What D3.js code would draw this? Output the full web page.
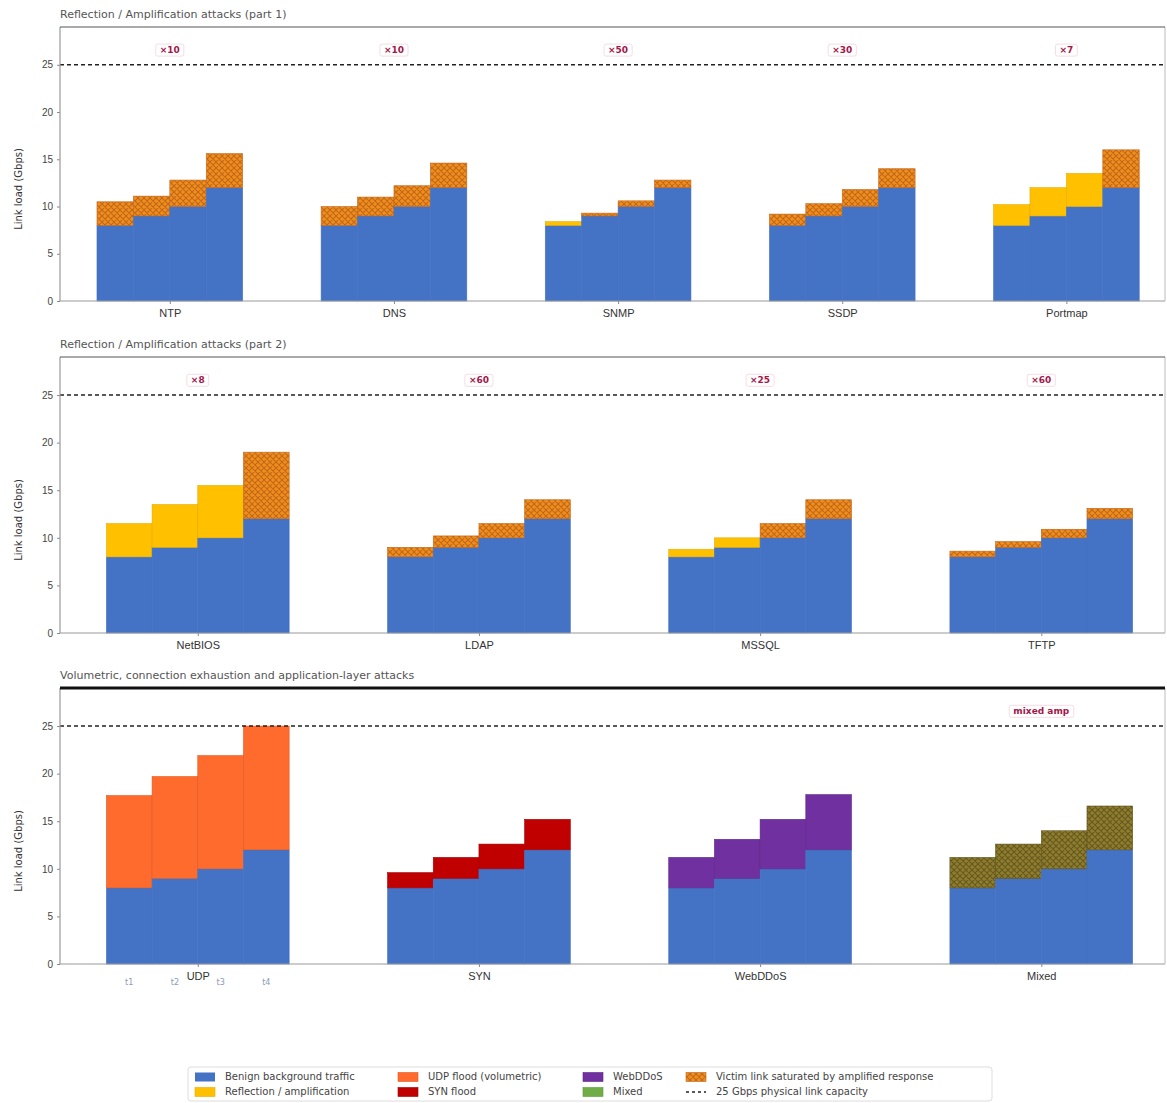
<!DOCTYPE html>
<html>
<head>
<meta charset="utf-8">
<script src="https://cdn.jsdelivr.net/npm/d3@7"></script>
<style>
  body { margin: 0; background: #fff; }
  svg { display: block; font-family: "DejaVu Sans", sans-serif; }
</style>
</head>
<body>
<div id="chart"></div>
<script>
// Background traffic steps, same for every attack group (Gbps)
const backgroundSteps = [8, 9, 10, 12];
const linkCapacity = 25;

// Panel 1
const part1Categories = ['NTP', 'DNS', 'SNMP', 'SSDP', 'Portmap'];
const part1Attack = [
    [2.5, 2.1, 2.8, 3.6],
    [2.0, 2.0, 2.2, 2.6],
    [0.4, 0.3, 0.6, 0.8],
    [1.2, 1.3, 1.8, 2.0],
    [2.2, 3.0, 3.5, 4.0]
];
const part1Kind = [
    ['sat', 'sat', 'sat', 'sat'],
    ['sat', 'sat', 'sat', 'sat'],
    ['refl', 'sat', 'sat', 'sat'],
    ['sat', 'sat', 'sat', 'sat'],
    ['refl', 'refl', 'refl', 'sat']
];
const part1Notes = ['×10', '×10', '×50', '×30', '×7'];

// Panel 2
const part2Categories = ['NetBIOS', 'LDAP', 'MSSQL', 'TFTP'];
const part2Attack = [
    [3.5, 4.5, 5.5, 7.0],
    [1.0, 1.2, 1.5, 2.0],
    [0.8, 1.0, 1.5, 2.0],
    [0.6, 0.6, 0.9, 1.1]
];
const part2Kind = [
    ['refl', 'refl', 'refl', 'sat'],
    ['sat', 'sat', 'sat', 'sat'],
    ['refl', 'refl', 'sat', 'sat'],
    ['sat', 'sat', 'sat', 'sat']
];
const part2Notes = ['×8', '×60', '×25', '×60'];

// Panel 3
const part3Categories = ['UDP', 'SYN', 'WebDDoS', 'Mixed'];
const part3Attack = [
    [9.7, 10.7, 11.9, 13.0],
    [1.6, 2.2, 2.6, 3.2],
    [3.2, 4.1, 5.2, 5.8],
    [3.2, 3.6, 4.0, 4.6]
];
const part3Kind = [
    ['udp', 'udp', 'udp', 'udp'],
    ['syn', 'syn', 'syn', 'syn'],
    ['web', 'web', 'web', 'web'],
    ['mixed', 'mixed', 'mixed', 'mixed']
];
const part3Notes = ['', '', '', 'mixed amp'];
const udpSubLabels = ['t1', 't2', 't3', 't4'];

const yTicks = [0, 5, 10, 15, 20, 25];

const legendItems = [
    { label: 'Benign background traffic', kind: 'bg' },
    { label: 'Reflection / amplification', kind: 'refl' },
    { label: 'UDP flood (volumetric)', kind: 'udp' },
    { label: 'SYN flood', kind: 'syn' },
    { label: 'WebDDoS', kind: 'web' },
    { label: 'Mixed', kind: 'mixedLegend' },
    { label: 'Victim link saturated by amplified response', kind: 'sat' },
    { label: '25 Gbps physical link capacity', kind: 'line' }
];

const fills = {
    bg: '#4472c4',
    refl: '#ffc000',
    udp: '#ff6b2c',
    syn: '#c00000',
    web: '#7030a0',
    mixedLegend: '#70ad47',
    sat: 'url(#hatchSat)',
    mixed: 'url(#hatchMixed)'
};
const strokes = {
    bg: '#4472c4', refl: '#e6ad00', udp: '#e05a22', syn: '#a00000',
    web: '#5c2686', sat: '#c4661a', mixed: '#5f521c', mixedLegend: '#5f9a3a'
};

const W = 1167, H = 1103;
const plotLeft = 60, plotRight = 1165;

const svg = d3.select('#chart').append('svg')
    .attr('width', W)
    .attr('height', H);

// Hatch patterns
const defs = svg.append('defs');
function hatch(id, base, line) {
    const p = defs.append('pattern')
        .attr('id', id)
        .attr('patternUnits', 'userSpaceOnUse')
        .attr('width', 6)
        .attr('height', 6);
    p.append('rect').attr('width', 6).attr('height', 6).attr('fill', base);
    p.append('path')
        .attr('d', 'M0,0 L6,6 M6,0 L0,6 M-1,5 L1,7 M5,-1 L7,1')
        .attr('stroke', line)
        .attr('stroke-width', 1.1);
}
hatch('hatchSat', '#ee8f1c', '#c4661a');
hatch('hatchMixed', '#8e7d2c', '#655820');

const panels = [
    { title: 'Reflection / Amplification attacks (part 1)', cats: part1Categories, attack: part1Attack, kind: part1Kind, notes: part1Notes, top: 27, bottom: 301, thickTop: false },
    { title: 'Reflection / Amplification attacks (part 2)', cats: part2Categories, attack: part2Attack, kind: part2Kind, notes: part2Notes, top: 357, bottom: 633, thickTop: false },
    { title: 'Volumetric, connection exhaustion and application-layer attacks', cats: part3Categories, attack: part3Attack, kind: part3Kind, notes: part3Notes, top: 688, bottom: 964, thickTop: true }
];

const groupWidth = 0.65;
const subWidth = groupWidth / backgroundSteps.length;

panels.forEach((p, pi) => {
    const n = p.cats.length;
    const x = d3.scaleLinear().domain([-0.49, n - 1 + 0.44]).range([plotLeft, plotRight]);
    const y = d3.scaleLinear().domain([0, 29]).range([p.bottom, p.top]);
    const g = svg.append('g');

    // Title
    g.append('text')
        .attr('x', plotLeft)
        .attr('y', p.top - 9)
        .style('font-size', '11px')
        .style('fill', '#555')
        .text(p.title);

    // Bars
    p.cats.forEach((cat, ci) => {
        backgroundSteps.forEach((bgVal, si) => {
            const x0 = x(ci - groupWidth / 2 + si * subWidth);
            const x1 = x(ci - groupWidth / 2 + (si + 1) * subWidth);
            g.append('rect')
                .attr('x', x0)
                .attr('width', x1 - x0)
                .attr('y', y(bgVal))
                .attr('height', y(0) - y(bgVal))
                .attr('fill', fills.bg)
                .attr('stroke', strokes.bg)
                .attr('stroke-width', 0.6);
            const a = p.attack[ci][si];
            const k = p.kind[ci][si];
            g.append('rect')
                .attr('x', x0)
                .attr('width', x1 - x0)
                .attr('y', y(bgVal + a))
                .attr('height', y(bgVal) - y(bgVal + a))
                .attr('fill', fills[k])
                .attr('stroke', strokes[k])
                .attr('stroke-width', 0.6);
        });

        // Annotation
        if (p.notes[ci]) {
            const t = g.append('text')
                .attr('x', x(ci))
                .attr('y', y(26.5))
                .attr('text-anchor', 'middle')
                .attr('dominant-baseline', 'middle')
                .style('font-size', '9px')
                .style('font-weight', 'bold')
                .style('fill', '#a3174a')
                .text(p.notes[ci]);
            const bb = t.node().getBBox();
            g.insert('rect', () => t.node())
                .attr('x', bb.x - 4).attr('y', bb.y - 1)
                .attr('width', bb.width + 8).attr('height', bb.height + 2)
                .attr('rx', 2)
                .attr('fill', '#fff')
                .attr('stroke', '#f3d3dd')
                .attr('stroke-width', 0.8);
        }
    });

    // Capacity line
    g.append('line')
        .attr('x1', plotLeft).attr('x2', plotRight)
        .attr('y1', y(linkCapacity)).attr('y2', y(linkCapacity))
        .attr('stroke', '#222')
        .attr('stroke-width', 1.5)
        .attr('stroke-dasharray', '4,3');

    // Y axis
    const yAxis = g.append('g')
        .attr('transform', `translate(${plotLeft},0)`)
        .call(d3.axisLeft(y).tickValues(yTicks).tickSize(3).tickPadding(4));
    yAxis.select('.domain').remove();
    yAxis.selectAll('line').attr('stroke', '#888');
    yAxis.selectAll('text').style('font-size', '10px').style('fill', '#444');

    // X axis
    const xAxis = g.append('g')
        .attr('transform', `translate(0,${p.bottom})`)
        .call(d3.axisBottom(x).tickValues(d3.range(n)).tickFormat(i => p.cats[i]).tickSize(3).tickPadding(5));
    xAxis.select('.domain').remove();
    xAxis.selectAll('line').attr('stroke', '#888');
    xAxis.selectAll('text').style('font-size', '11px').style('fill', '#333');

    // Frame
    g.append('line').attr('x1', plotLeft).attr('x2', plotLeft).attr('y1', p.top).attr('y2', p.bottom).attr('stroke', '#999').attr('stroke-width', 1.2);
    g.append('line').attr('x1', plotLeft).attr('x2', plotRight).attr('y1', p.bottom).attr('y2', p.bottom).attr('stroke', '#999').attr('stroke-width', 1.2);
    g.append('line').attr('x1', plotRight).attr('x2', plotRight).attr('y1', p.top).attr('y2', p.bottom).attr('stroke', '#bbb').attr('stroke-width', 1);
    g.append('line').attr('x1', plotLeft).attr('x2', plotRight).attr('y1', p.top).attr('y2', p.top)
        .attr('stroke', p.thickTop ? '#111' : '#555')
        .attr('stroke-width', p.thickTop ? 3 : 1.2);

    // Y label
    g.append('text')
        .attr('transform', `translate(22,${(p.top + p.bottom) / 2 + 25}) rotate(-90)`)
        .attr('text-anchor', 'middle')
        .style('font-size', '10px')
        .style('fill', '#333')
        .text('Link load (Gbps)');

    // UDP sub labels
    if (pi === 2) {
        udpSubLabels.forEach((lab, si) => {
            g.append('text')
                .attr('x', x(0 - groupWidth / 2 + (si + 0.5) * subWidth))
                .attr('y', p.bottom + 21)
                .attr('text-anchor', 'middle')
                .style('font-size', '8px')
                .style('fill', '#8a9ab8')
                .text(lab);
        });
    }
});

// Legend
const legend = svg.append('g');
legend.append('rect')
    .attr('x', 188).attr('y', 1067)
    .attr('width', 804).attr('height', 34)
    .attr('fill', '#fff')
    .attr('stroke', '#ddd')
    .attr('rx', 3);
const colX = [195, 398, 583, 686];
legendItems.forEach((item, i) => {
    const col = Math.floor(i / 2), row = i % 2;
    const lx = colX[col], ly = 1077 + row * 15;
    if (item.kind === 'line') {
        legend.append('line')
            .attr('x1', lx).attr('x2', lx + 20)
            .attr('y1', ly).attr('y2', ly)
            .attr('stroke', '#222').attr('stroke-width', 1.3)
            .attr('stroke-dasharray', '3,3');
    } else {
        legend.append('rect')
            .attr('x', lx).attr('y', ly - 4.5)
            .attr('width', 20).attr('height', 9)
            .attr('fill', fills[item.kind])
            .attr('stroke', item.kind === 'bg' ? 'none' : strokes[item.kind])
            .attr('stroke-width', 0.6);
    }
    legend.append('text')
        .attr('x', lx + 30).attr('y', ly)
        .attr('dominant-baseline', 'middle')
        .style('font-size', '10px')
        .style('fill', '#444')
        .text(item.label);
});
</script>
</body>
</html>
